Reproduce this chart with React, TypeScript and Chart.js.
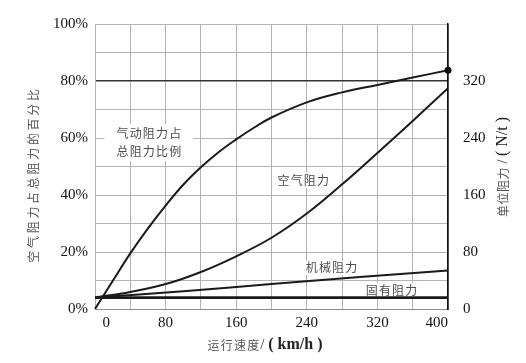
import React, { useEffect, useRef } from 'react';
import { Chart, registerables } from 'chart.js';

Chart.register(...registerables);

// ---- data ----
const ratioSpeeds = [0, 20, 40, 60, 80, 100, 120, 140, 160, 180, 200, 240, 280, 320, 360, 400];
const ratioPercent = [0, 9.8, 19.5, 28.3, 36.3, 43.6, 49.7, 55, 59.5, 63.6, 67.2, 72.5, 76, 78.6, 81.2, 83.8];

const airSpeeds = [0, 40, 80, 120, 160, 200, 240, 280, 320, 360, 400];
const airResistance = [16, 24, 35, 52, 74, 100, 134, 175, 219, 264, 310];

const mechSpeeds = [0, 100, 200, 300, 400];
const mechResistance = [16, 25, 35, 45, 54];

const inherentSpeeds = [0, 400];
const inherentResistance = [16, 16];

const xTickLabels: Record<number, string> = { 0: '  0', 80: '80', 160: '160', 240: '240', 320: '320', 400: '400' };
const leftTickLabels: Record<number, string> = { 0: '0%', 20: '20%', 40: '40%', 60: '60%', 80: '80%', 100: '100%' };
const rightTickLabels: Record<number, string> = { 0: '0', 80: '80', 160: '160', 240: '240', 320: '320' };

const ratioLabelLines = ['气动阻力占', '总阻力比例'];
const airLabel = '空气阻力';
const mechLabel = '机械阻力';
const inherentLabel = '固有阻力';

const CJK = '"Noto Sans CJK SC", "Noto Sans", sans-serif';
const SERIF = '"Liberation Serif", "DejaVu Serif", serif';

type Seg = { text: string; font: string; color: string; ls?: number };

function segWidth(ctx: CanvasRenderingContext2D, s: Seg) {
  ctx.font = s.font;
  (ctx as any).letterSpacing = (s.ls || 0) + 'px';
  return ctx.measureText(s.text).width;
}

function drawSegs(ctx: CanvasRenderingContext2D, segs: Seg[], cx: number, cy: number, rot: number) {
  ctx.save();
  const widths = segs.map((s) => segWidth(ctx, s));
  const total = widths.reduce((a, b) => a + b, 0);
  ctx.translate(cx, cy);
  ctx.rotate(rot);
  ctx.textBaseline = 'middle';
  ctx.textAlign = 'left';
  let x = -total / 2;
  segs.forEach((s, i) => {
    ctx.font = s.font;
    (ctx as any).letterSpacing = (s.ls || 0) + 'px';
    ctx.fillStyle = s.color;
    ctx.fillText(s.text, x, 0);
    x += widths[i];
  });
  ctx.restore();
}

function drawBoxedText(
  ctx: CanvasRenderingContext2D,
  lines: string[],
  cx: number,
  cy: number,
  lineH: number,
  padX: number,
  padY: number
) {
  ctx.save();
  ctx.font = '12px ' + CJK;
  (ctx as any).letterSpacing = '1.2px';
  const w = Math.max(...lines.map((l) => ctx.measureText(l).width)) - 1.2;
  const h = lineH * (lines.length - 1) + 12;
  ctx.fillStyle = '#ffffff';
  ctx.fillRect(cx - w / 2 - padX, cy - h / 2 - padY, w + 2 * padX, h + 2 * padY);
  ctx.fillStyle = '#4d4d4d';
  ctx.textBaseline = 'middle';
  ctx.textAlign = 'left';
  lines.forEach((l, i) => {
    const lw = ctx.measureText(l).width - 1.2;
    ctx.fillText(l, cx - lw / 2, cy - ((lines.length - 1) * lineH) / 2 + i * lineH);
  });
  ctx.restore();
}

const textPlugin = {
  id: 'chartTexts',
  beforeDatasetsDraw(chart: any) {
    const { ctx, scales } = chart;
    const x = scales.x;
    const yl = scales.y;
    const yr = scales.y1;
    drawBoxedText(ctx, ratioLabelLines, x.getPixelForValue(61), yl.getPixelForValue(58.4), 18.5, 12, 3.5);
    drawBoxedText(ctx, [airLabel], x.getPixelForValue(236), yr.getPixelForValue(181), 0, 3, 2);
    drawBoxedText(ctx, [mechLabel], x.getPixelForValue(268), yr.getPixelForValue(57.7), 0, 3, 1);
    drawBoxedText(ctx, [inherentLabel], x.getPixelForValue(336), yr.getPixelForValue(26.3), 0, 3, 1);
  },
  afterDraw(chart: any) {
    const { ctx, chartArea } = chart;
    drawSegs(
      ctx,
      [{ text: '空气阻力占总阻力的百分比', font: '12px ' + CJK, color: '#555', ls: 2.7 }],
      33,
      (chartArea.top + chartArea.bottom) / 2 + 8,
      -Math.PI / 2
    );
    drawSegs(
      ctx,
      [
        { text: '单位阻力', font: '12px ' + CJK, color: '#555', ls: 0.5 },
        { text: ' / ', font: '14px ' + SERIF, color: '#333' },
        { text: '( N/t )', font: '16px ' + SERIF, color: '#222' },
      ],
      503,
      167,
      -Math.PI / 2
    );
    drawSegs(
      ctx,
      [
        { text: '运行速度', font: '12px ' + CJK, color: '#555', ls: 1.2 },
        { text: '/ ', font: '15px ' + SERIF, color: '#333' },
        { text: '( km/h )', font: 'bold 16px ' + SERIF, color: '#222' },
      ],
      265,
      345,
      0
    );
  },
};

export default function App() {
  const ref = useRef<HTMLCanvasElement | null>(null);

  useEffect(() => {
    document.body.style.margin = '0';
    const canvas = ref.current;
    if (!canvas) return;
    const lastIdx = ratioSpeeds.length - 1;
    const chart = new Chart(canvas, {
      type: 'line',
      data: {
        datasets: [
          {
            label: '气动阻力占总阻力比例',
            data: ratioSpeeds.map((s, i) => ({ x: s, y: ratioPercent[i] })),
            yAxisID: 'y',
            borderColor: '#1a1a1a',
            borderWidth: 2,
            pointRadius: ratioSpeeds.map((_, i) => (i === lastIdx ? 3.5 : 0)),
            pointBackgroundColor: '#111',
            pointBorderWidth: 0,
            tension: 0.4,
            clip: false as any,
          },
          {
            label: '空气阻力',
            data: airSpeeds.map((s, i) => ({ x: s, y: airResistance[i] })),
            yAxisID: 'y1',
            borderColor: '#1a1a1a',
            borderWidth: 2,
            pointRadius: 0,
            tension: 0.4,
          },
          {
            label: '机械阻力',
            data: mechSpeeds.map((s, i) => ({ x: s, y: mechResistance[i] })),
            yAxisID: 'y1',
            borderColor: '#1a1a1a',
            borderWidth: 2,
            pointRadius: 0,
            tension: 0.4,
          },
          {
            label: '固有阻力',
            data: inherentSpeeds.map((s, i) => ({ x: s, y: inherentResistance[i] })),
            yAxisID: 'y1',
            borderColor: '#1a1a1a',
            borderWidth: 2.6,
            pointRadius: 0,
          },
        ],
      },
      options: {
        responsive: false,
        animation: false,
        events: [],
        layout: { padding: { top: 20, left: 0, right: 0, bottom: 0 } },
        plugins: {
          legend: { display: false },
          tooltip: { enabled: false },
        },
        scales: {
          x: {
            type: 'linear',
            min: 0,
            max: 400,
            ticks: {
              stepSize: 40,
              autoSkip: false,
              maxRotation: 0,
              align: 'inner',
              padding: 5,
              color: '#111',
              font: { family: SERIF, size: 15 },
              callback: (v: any) => xTickLabels[v as number] ?? '',
            },
            grid: {
              drawTicks: false,
              color: (c: any) => (c.tick && c.tick.value === 400 ? '#111' : '#b3b3b3'),
              lineWidth: (c: any) => (c.tick && c.tick.value === 400 ? 1.5 : 1),
            },
            border: { color: '#8a8a8a', width: 1 },
            afterFit: (s: any) => {
              s.height = 54;
            },
          },
          y: {
            type: 'linear',
            position: 'left',
            min: 0,
            max: 100,
            ticks: {
              stepSize: 10,
              autoSkip: false,
              padding: 7,
              color: '#111',
              font: { family: SERIF, size: 15 },
              callback: (v: any) => leftTickLabels[v as number] ?? '',
            },
            grid: {
              drawTicks: false,
              color: (c: any) => (c.tick && c.tick.value === 80 ? '#333' : '#b3b3b3'),
              lineWidth: (c: any) => (c.tick && c.tick.value === 80 ? 1.6 : 1),
            },
            border: { color: '#b3b3b3', width: 1 },
            afterFit: (s: any) => {
              s.width = 95;
            },
          },
          y1: {
            type: 'linear',
            position: 'right',
            min: 0,
            max: 400,
            ticks: {
              stepSize: 40,
              autoSkip: false,
              padding: 15,
              color: '#111',
              font: { family: SERIF, size: 15 },
              callback: (v: any) => rightTickLabels[v as number] ?? '',
            },
            grid: { display: false, drawTicks: false },
            border: { color: '#111', width: 1.5 },
            afterFit: (s: any) => {
              s.width = 78;
            },
          },
        },
      } as any,
      plugins: [textPlugin],
    });
    return () => chart.destroy();
  }, []);

  return (
    <div style={{ position: 'fixed', left: 0, top: 0, width: 526, height: 363, background: '#fff' }}>
      <canvas ref={ref} width={526} height={363} />
    </div>
  );
}
